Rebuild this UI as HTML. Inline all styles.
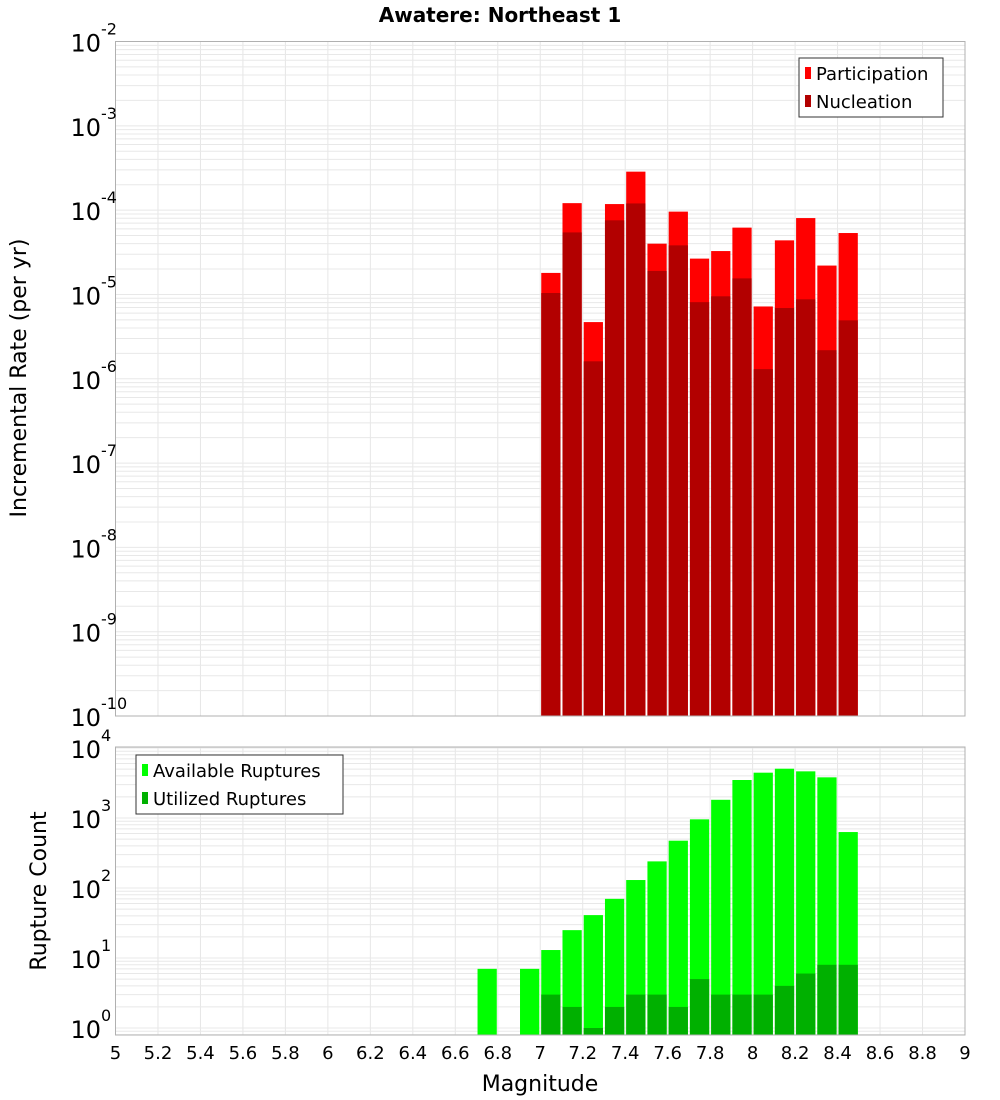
<!DOCTYPE html>
<html><head><meta charset="utf-8"><style>
body{margin:0;background:#fff;}
svg{display:block;font-family:"DejaVu Sans","Liberation Sans",sans-serif;}
</style></head><body>
<svg id="c" width="1000" height="1100" xmlns="http://www.w3.org/2000/svg">
<text x="500" y="22" text-anchor="middle" font-size="20" font-weight="bold">Awatere: Northeast 1</text>
<g id="g1"></g>
<g id="g2"></g>
<text transform="translate(26,378) rotate(-90)" text-anchor="middle" font-size="22">Incremental Rate (per yr)</text>
<text transform="translate(46,891) rotate(-90)" text-anchor="middle" font-size="22">Rupture Count</text>
<text x="540" y="1091" text-anchor="middle" font-size="22">Magnitude</text>
</svg>
<script>
const bins = [7.05,7.15,7.25,7.35,7.45,7.55,7.65,7.75,7.85,7.95,8.05,8.15,8.25,8.35,8.45];
const participation = [1.8e-5,1.21e-4,4.7e-6,1.18e-4,2.86e-4,4.0e-5,9.6e-5,2.66e-5,3.27e-5,6.2e-5,7.2e-6,4.38e-5,8.05e-5,2.2e-5,5.35e-5];
const nucleation = [1.04e-5,5.44e-5,1.61e-6,7.57e-5,1.2e-4,1.9e-5,3.82e-5,8.1e-6,9.5e-6,1.55e-5,1.3e-6,6.9e-6,8.75e-6,2.18e-6,4.93e-6];
const countBins = [6.75,6.95,7.05,7.15,7.25,7.35,7.45,7.55,7.65,7.75,7.85,7.95,8.05,8.15,8.25,8.35,8.45];
const available = [7,7,13,25,41,70,130,240,474,957,1820,3490,4440,5060,4640,3810,630];
const utilized = [0,0,3,2,1,2,3,3,2,5,3,3,3,4,6,8,8];
const xTicks = [5,5.2,5.4,5.6,5.8,6,6.2,6.4,6.6,6.8,7,7.2,7.4,7.6,7.8,8,8.2,8.4,8.6,8.8,9];
const rateExps = [-2,-3,-4,-5,-6,-7,-8,-9,-10];
const countExps = [0,1,2,3,4];

const NS="http://www.w3.org/2000/svg";
const L=115.5,R=965;
function xs(v){return L+(v-5)*(R-L)/4;}
const T1=41.5,B1=716;
function y1(v){return T1+(-2-Math.log10(v))*(B1-T1)/8;}
const B2=1028,PX=70,T2=747,BB2=1035;
function y2(v){return B2-Math.log10(v)*PX;}
function mk(p,tag,a){const e=document.createElementNS(NS,tag);for(const k in a)e.setAttribute(k,a[k]);p.appendChild(e);return e;}
const g1=document.getElementById('g1'),g2=document.getElementById('g2');

function grid(g,top,bot,yf,lo,hi){
  for(const t of xTicks){const l=mk(g,'line',{x1:xs(t),x2:xs(t),y1:top,y2:bot,stroke:'#e6e6e6'});
  
  }
  for(let e=lo;e<hi;e++)for(let m=1;m<10;m++){const y=yf(m*Math.pow(10,e));if(y<top||y>bot)continue;
    const l=mk(g,'line',{x1:L,x2:R,y1:y,y2:y,stroke:'#e8e8e8'});
    
    }
}
grid(g1,T1,B1,y1,-10,-2);
grid(g2,T2,BB2,y2,-1,5);

function bar(g,c,v,base,yf,col,name){const x=xs(c-0.05)+1,w=xs(c+0.05)-xs(c-0.05)-2;const y=yf(v);
  const r=mk(g,'rect',{x:x,y:y,width:w,height:base-y,fill:col});
  
  }
bins.forEach((c,i)=>{bar(g1,c,participation[i],B1,y1,'#ff0000','participation-bar');});
bins.forEach((c,i)=>{bar(g1,c,nucleation[i],B1,y1,'#b20000','nucleation-bar');});
countBins.forEach((c,i)=>{bar(g2,c,available[i],BB2,y2,'#00ff00','available-bar');});
countBins.forEach((c,i)=>{if(utilized[i]>0)bar(g2,c,utilized[i],BB2,y2,'#00b000','utilized-bar');});

mk(g1,'rect',{x:L,y:T1,width:R-L,height:B1-T1,fill:'none',stroke:'#b0b0b0'});
mk(g2,'rect',{x:L,y:T2,width:R-L,height:BB2-T2,fill:'none',stroke:'#b0b0b0'});

function ylab(g,y,e){const t=mk(g,'text',{x:101,y:y+10,'text-anchor':'end','font-size':24});t.textContent='10';
  
  
  const s=mk(g,'text',{x:101,y:y-7,'font-size':16});s.textContent=String(e);
  
  }
rateExps.forEach(e=>ylab(g1,y1(Math.pow(10,e)),e));
countExps.forEach(e=>ylab(g2,y2(Math.pow(10,e)),e));
xTicks.forEach(t=>{const s=mk(g2,'text',{x:xs(t),y:1059,'text-anchor':'middle','font-size':18});s.textContent=String(t);
  
  });

function legend(g,x,y,w,items){const b=mk(g,'rect',{x:x,y:y,width:w,height:59,fill:'#fff',stroke:'#333'});
  
  
  items.forEach((it,i)=>{const yy=y+15+i*28;mk(g,'rect',{x:x+6,y:yy-6,width:6,height:12,fill:it[1]});
    const t=mk(g,'text',{x:x+17,y:yy+7,'font-size':18});t.textContent=it[0];
    
    });}
legend(g1,799,58,144,[['Participation','#ff0000'],['Nucleation','#b20000']]);
legend(g2,136,755,207,[['Available Ruptures','#00ff00'],['Utilized Ruptures','#00b000']]);
</script>
</body></html>
